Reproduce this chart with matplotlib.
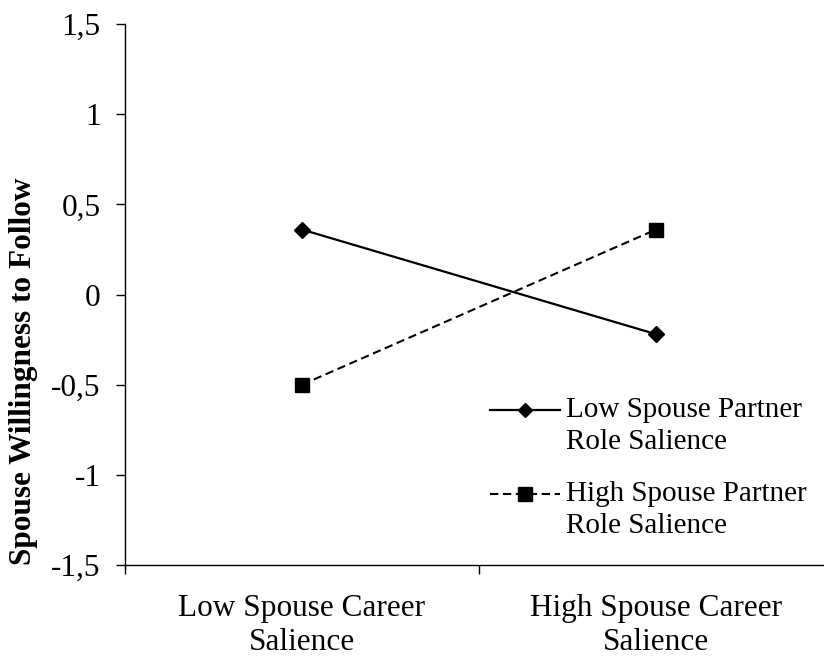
import matplotlib
matplotlib.use("Agg")
import matplotlib.pyplot as plt
import numpy as np

categories = ["Low Spouse Career\nSalience", "High Spouse Career\nSalience"]
series_names = ["Low Spouse Partner\nRole Salience", "High Spouse Partner\nRole Salience"]
low_partner = [0.36, -0.22]
high_partner = [-0.50, 0.36]
yticks = [-1.5, -1, -0.5, 0, 0.5, 1, 1.5]
ytick_labels = ["-1,5", "-1", "-0,5", "0", "0,5", "1", "1,5"]

plt.rcParams['font.family'] = ['Liberation Serif', 'DejaVu Serif']
FS = 22.5
LFS = 21

fig = plt.figure(figsize=(8.24, 6.59), dpi=100)
ax = fig.add_axes([125/824, 1-565/659, (833-125)/824, (565-24)/659])

xpos = [i + 0.5 for i in range(len(categories))]
ax.plot(xpos, low_partner, color='black', linestyle='-', linewidth=1.6,
        marker='D', markersize=8.5, label=series_names[0])
ax.plot(xpos, high_partner, color='black', linestyle=(0, (4, 2.2)), linewidth=1.5,
        marker='s', markersize=10, label=series_names[1])

ax.set_xlim(0, len(categories))
ax.set_ylim(-1.5, 1.5)
ax.set_yticks(yticks)
ax.set_yticklabels(ytick_labels, fontsize=FS)
ax.set_xticks(range(len(categories) + 1))
ax.set_xticklabels([])
ax.set_xticks(xpos, minor=True)
ax.set_xticklabels(categories, minor=True, fontsize=FS, linespacing=1.2)
ax.tick_params(axis='x', which='minor', length=0, pad=21)
ax.tick_params(axis='both', which='major', direction='out', length=6.5, width=1)
ax.tick_params(axis='y', which='major', pad=11)

for s in ['top', 'right']:
    ax.spines[s].set_visible(False)
for s in ['left', 'bottom']:
    ax.spines[s].set_linewidth(1)

ax.set_ylabel("Spouse Willingness to Follow", fontsize=FS, fontweight='bold')
ax.yaxis.set_label_coords(-0.123, 0.358)

leg = ax.legend(loc='upper left', bbox_to_anchor=(0.516, 0.31), bbox_transform=ax.transAxes,
                frameon=False, fontsize=LFS, handlelength=2.4, handletextpad=0.2,
                labelspacing=0.9, borderpad=0, borderaxespad=0, markerscale=1.0)
for t in leg.get_texts():
    t.set_linespacing(1.28)
leg.legend_handles[0].set_markersize(7)
leg.legend_handles[1].set_markersize(9.5)
# align each legend handle with the first line of its two-line label
for h in leg.legend_handles:
    yd = np.asarray(h.get_ydata(), dtype=float)
    h.set_ydata(yd + 11.5)

fig.savefig("out.png", dpi=100)
